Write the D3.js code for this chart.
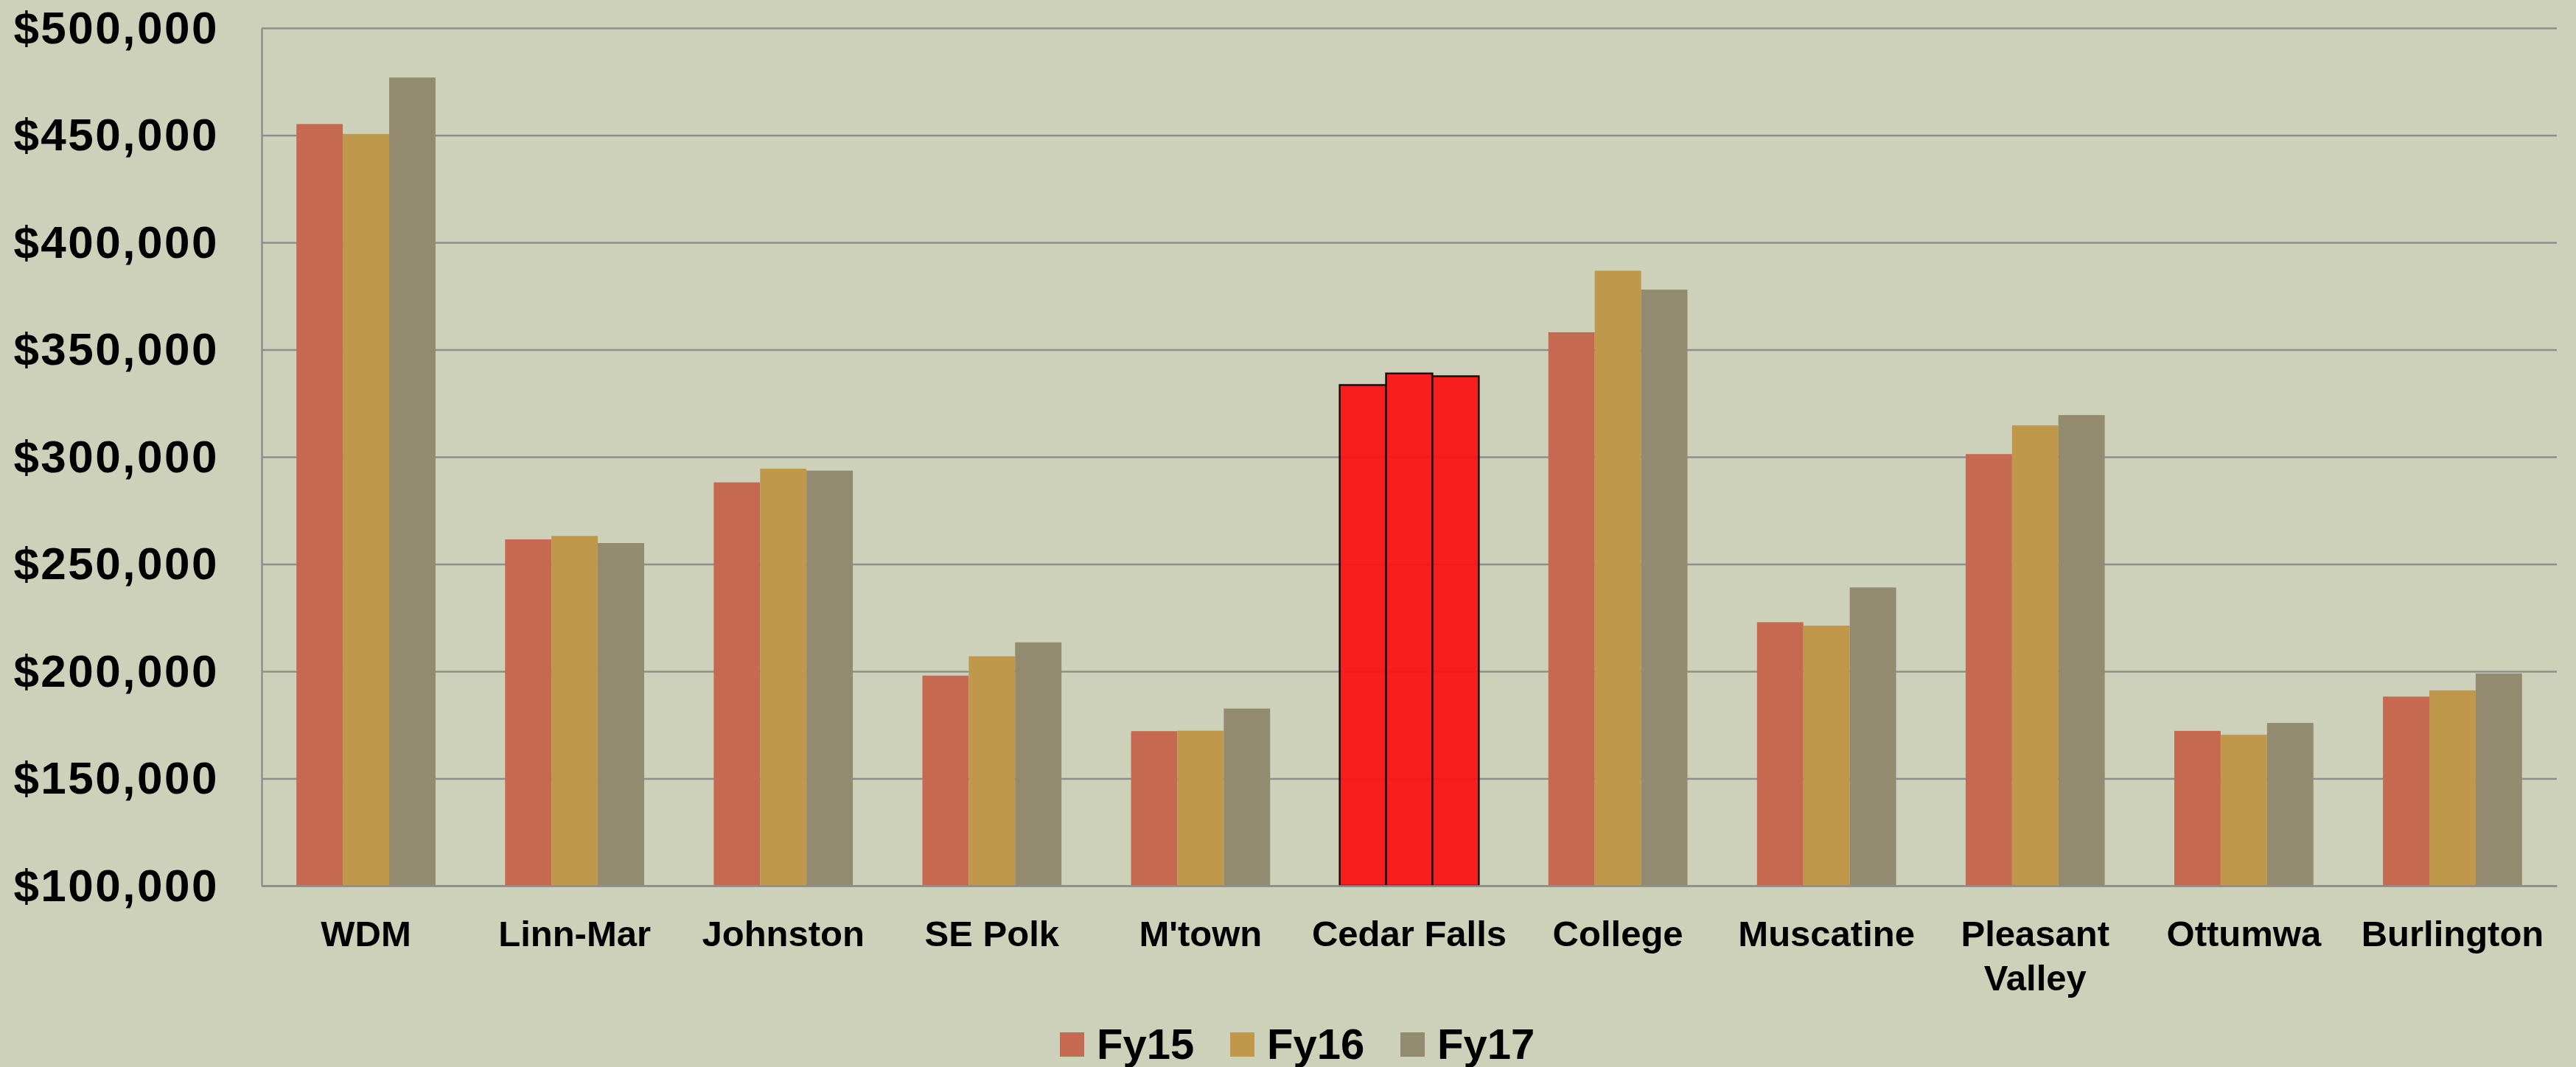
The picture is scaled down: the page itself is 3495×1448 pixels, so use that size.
<!DOCTYPE html>
<html>
<head>
<meta charset="utf-8">
<script src="https://cdn.jsdelivr.net/npm/d3@7"></script>
<style>
  html, body { margin: 0; padding: 0; background: #CDD1B9; }
  svg { display: block; }
</style>
</head>
<body>
<svg id="chart" width="3495" height="1448"></svg>
<script>
const categories = ["WDM", "Linn-Mar", "Johnston", "SE Polk", "M'town", "Cedar Falls", "College", "Muscatine", "Pleasant Valley", "Ottumwa", "Burlington"];
const seriesNames = ["Fy15", "Fy16", "Fy17"];
const fy15 = [455200, 261500, 288100, 198000, 172100, 333500, 358100, 222900, 301300, 172200, 188200];
const fy16 = [450600, 263100, 294500, 207000, 172300, 338900, 386800, 221300, 314700, 170400, 191100];
const fy17 = [476900, 259800, 293600, 213500, 182600, 337600, 378000, 239100, 319500, 175900, 199000];
const yTicks = [100000, 150000, 200000, 250000, 300000, 350000, 400000, 450000, 500000];
const highlightCategory = "Cedar Falls";
const seriesColors = ["#C56A50", "#BF984C", "#938B6F"];
const highlightColor = "#FA1414";

(function () {
const values = [fy15, fy16, fy17];
const svg = d3.select("#chart");
const mLeft = 355, mRight = 3469, mTop = 38, mBottom = 1202;

const x0 = d3.scaleBand().domain(categories).range([mLeft, mRight]).paddingInner(1/3).paddingOuter(1/6);
const x1 = d3.scaleBand().domain(seriesNames).range([0, x0.bandwidth()]).padding(0);
const y = d3.scaleLinear().domain([100000, 500000]).range([mBottom, mTop]);

svg.append("rect").attr("width", 3495).attr("height", 1448).attr("fill", "#CDD1B9");

// y axis + gridlines
const fmt = v => "$" + d3.format(",")(v);
const yAxis = svg.append("g")
  .attr("transform", `translate(${mLeft},0)`)
  .call(d3.axisLeft(y).tickValues(yTicks).tickFormat(fmt).tickSize(-(mRight - mLeft)).tickSizeOuter(0).tickPadding(58));
yAxis.select(".domain").attr("stroke", "#8E8E8E").attr("stroke-width", 2.5);
yAxis.selectAll(".tick line").attr("stroke", "#8E8E8E").attr("stroke-width", 2.5);
yAxis.selectAll(".tick text")
  .attr("fill", "#000")
  .attr("font-family", "'Liberation Sans', Arial, sans-serif")
  .attr("font-weight", "bold")
  .attr("font-size", 62)
  .attr("letter-spacing", 2.5)
  .attr("dy", "0.33em");

// bars
const data = categories.map((c, i) => ({ cat: c, vals: seriesNames.map((s, j) => ({ s, j, v: values[j][i], cat: c })) }));
const groups = svg.append("g").selectAll("g").data(data).join("g")
  .attr("transform", d => `translate(${x0(d.cat)},0)`);
groups.selectAll("rect").data(d => d.vals).join("rect")
  .attr("x", d => x1(d.s))
  .attr("y", d => y(d.v))
  .attr("width", x1.bandwidth())
  .attr("height", d => y(100000) - y(d.v))
  .attr("fill", d => d.cat === highlightCategory ? highlightColor : seriesColors[d.j])
  .attr("fill-opacity", d => d.cat === highlightCategory ? 0.95 : 1)
  .attr("stroke", d => d.cat === highlightCategory ? "#111" : "none")
  .attr("stroke-width", d => d.cat === highlightCategory ? 2.5 : 0);

// x axis
const xAxis = svg.append("g")
  .attr("transform", `translate(0,${mBottom})`)
  .call(d3.axisBottom(x0).tickSize(0).tickPadding(82));
xAxis.select(".domain").attr("stroke", "#8E8E8E").attr("stroke-width", 2.5);
xAxis.selectAll(".tick text")
  .attr("fill", "#000")
  .attr("font-family", "'Liberation Sans', Arial, sans-serif")
  .attr("font-weight", "bold")
  .attr("font-size", 49)
  .attr("dy", 0)
  .attr("y", 82)
  .each(function(d) {
    const t = d3.select(this);
    if (this.getComputedTextLength() > x0.step() - 10) {
      const words = d.split(" ");
      t.text(null);
      words.forEach((w, k) => {
        t.append("tspan").attr("x", 0).attr("dy", k === 0 ? 0 : 60).text(w);
      });
    }
  });

// legend
const legend = svg.append("g");
const legendX = [1438, 1669, 1900];
seriesNames.forEach((s, j) => {
  const g = legend.append("g").attr("transform", `translate(${legendX[j]},0)`);
  g.append("rect").attr("x", 0).attr("y", 1401).attr("width", 33).attr("height", 33).attr("fill", seriesColors[j]);
  g.append("text").attr("x", 50).attr("y", 1437)
    .attr("font-family", "'Liberation Sans', Arial, sans-serif")
    .attr("font-weight", "bold")
    .attr("font-size", 58)
    .attr("fill", "#000")
    .text(s);
});
})();
</script>
</body>
</html>
